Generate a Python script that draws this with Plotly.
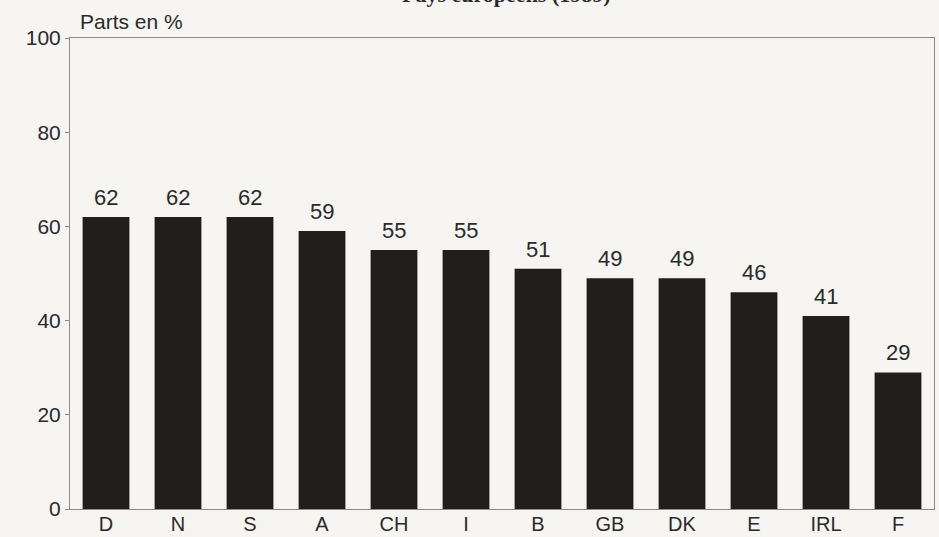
import plotly.graph_objects as go

countries = ["D", "N", "S", "A", "CH", "I", "B", "GB", "DK", "E", "IRL", "F"]
shares = [62, 62, 62, 59, 55, 55, 51, 49, 49, 46, 41, 29]
y_ticks = [0, 20, 40, 60, 80, 100]

title_text = "Pays européens (1989)"
y_label = "Parts en %"

BAR = "#221e1d"
TXT = "#2a2a2a"
FRAME = "#8c8c8c"
BG = "#f6f5f2"
FONT = "Liberation Sans, Arial, sans-serif"

fig = go.Figure()
fig.add_trace(go.Bar(
    x=countries, y=shares,
    marker=dict(color=BAR, line=dict(width=0)),
    width=0.65,
    hoverinfo="x+y",
))

annotations = []
for c, v in zip(countries, shares):
    annotations.append(dict(
        x=c, y=v, xref="x", yref="y", text=str(v), showarrow=False,
        yanchor="bottom", yshift=5, font=dict(size=22, color=TXT, family=FONT),
    ))

annotations.append(dict(
    x=0, y=1, xref="paper", yref="paper", text=y_label, showarrow=False,
    xanchor="left", yanchor="middle", xshift=8, yshift=17,
    font=dict(size=21, color=TXT, family=FONT),
))
annotations.append(dict(
    x=0.505, y=1, xref="paper", yref="paper", text="<b>" + title_text + "</b>",
    showarrow=False, xanchor="center", yanchor="middle", yshift=44,
    font=dict(size=22, color=TXT, family="Liberation Serif, Times New Roman, serif"),
))

fig.update_layout(
    width=939, height=537,
    autosize=False,
    margin=dict(l=70, r=5, t=38, b=28, autoexpand=False),
    paper_bgcolor=BG, plot_bgcolor=BG,
    showlegend=False,
    annotations=annotations,
    bargap=0.35,
)
fig.update_xaxes(
    showline=True, linecolor=FRAME, linewidth=1, mirror=True, automargin=False,
    showgrid=False, ticks="", tickfont=dict(size=20, color=TXT, family=FONT),
    ticklabelstandoff=-3, fixedrange=True,
)
fig.update_yaxes(
    range=[0, 100], tickvals=y_ticks, ticktext=[str(t) for t in y_ticks],
    showline=True, linecolor=FRAME, linewidth=1, mirror=True, automargin=False,
    showgrid=False, zeroline=False, ticks="outside", ticklen=4, tickcolor=FRAME,
    tickfont=dict(size=21, color=TXT, family=FONT), fixedrange=True,
)

post = (
    "document.documentElement.style.margin='0';"
    "document.body.style.margin='0';document.body.style.padding='0';"
    "document.body.style.overflow='hidden';"
    "document.body.style.background='" + BG + "';"
    "Plotly.relayout('{plot_id}', {width: 939, height: 537});"
)

fig.write_html("out.html", post_script=post,
               config={"responsive": False, "displayModeBar": False})
